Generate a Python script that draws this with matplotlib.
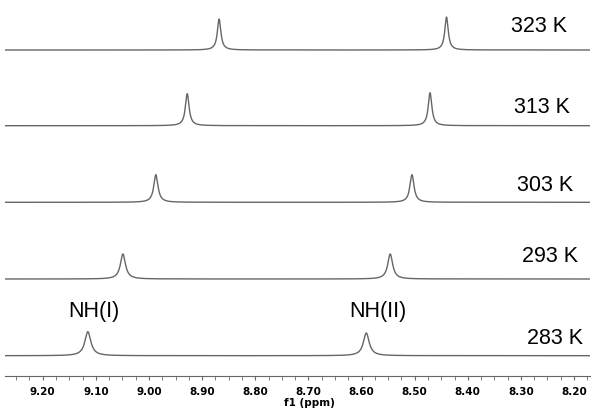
import matplotlib
matplotlib.use('Agg')
import matplotlib.pyplot as plt
import numpy as np

# temperatures, bottom to top
temps = ['283 K', '293 K', '303 K', '313 K', '323 K']
# NH(I) and NH(II) shifts (ppm)
nh1_ppm = [9.115, 9.049, 8.987, 8.928, 8.868]
nh2_ppm = [8.591, 8.546, 8.505, 8.471, 8.440]
# peak heights (arbitrary units) and half widths (ppm)
nh1_height = [24.0, 25.0, 27.6, 32.0, 31.0]
nh2_height = [22.7, 25.0, 27.6, 33.0, 33.0]
nh1_hwhm = [0.0068, 0.0058, 0.0048, 0.0042, 0.0040]
nh2_hwhm = [0.0066, 0.0056, 0.0046, 0.0041, 0.0039]


def lorentz(x, x0, h, w):
    return h * w**2 / ((x - x0)**2 + w**2)


fig = plt.figure(figsize=(5.95, 4.14), dpi=100)
ax = fig.add_axes([5/595, 37/414, 585/595, 377/414])

ppm = np.linspace(8.170, 9.271, 6000)
offsets = [20.3, 97.0, 173.7, 250.3, 326.0]
label_dy = [18, 23, 18, 19, 24]
label_right = [8.183, 8.192, 8.201, 8.207, 8.213]

for i, t in enumerate(temps):
    y = (lorentz(ppm, nh1_ppm[i], nh1_height[i], nh1_hwhm[i]) +
         lorentz(ppm, nh2_ppm[i], nh2_height[i], nh2_hwhm[i]))
    ax.plot(ppm, y + offsets[i], color='#666666', lw=1.0)
    ax.text(label_right[i], offsets[i] + label_dy[i], t, ha='right', va='center',
            fontsize=15.5, family='Liberation Sans')

ax.text(nh1_ppm[0] - 0.012, offsets[0] + 45, 'NH(I)', ha='center', va='center',
        fontsize=15.5, family='Liberation Sans')
ax.text(nh2_ppm[0] - 0.022, offsets[0] + 45, 'NH(II)', ha='center', va='center',
        fontsize=15.5, family='Liberation Sans')

ax.set_xlim(9.271, 8.170)
ax.set_ylim(0, 377)
for s in ['left', 'right', 'top']:
    ax.spines[s].set_visible(False)
ax.spines['bottom'].set_color('#666666')
ax.set_yticks([])
ax.set_xticks(np.arange(8.2, 9.25, 0.1))
ax.set_xticks(np.arange(8.175, 9.27, 0.025), minor=True)
ax.set_xticklabels(['%.2f' % v for v in np.arange(8.2, 9.25, 0.1)],
                   fontsize=7.5, fontweight='bold', family='DejaVu Sans')
ax.tick_params(axis='x', which='both', direction='out', length=3,
               color='#666666', pad=4)
ax.text(0.52, -0.068, 'f1 (ppm)', transform=ax.transAxes, ha='center',
        va='center', fontsize=7.5, fontweight='bold', family='DejaVu Sans')

fig.savefig('out.png', dpi=100)
